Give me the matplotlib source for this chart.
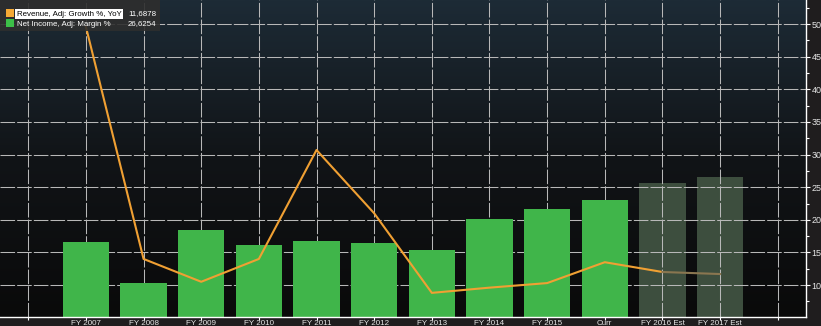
import numpy as np
import matplotlib
matplotlib.use('Agg')
import matplotlib.pyplot as plt
from matplotlib.colors import LinearSegmentedColormap
from matplotlib.patches import Rectangle

categories = ['FY 2007', 'FY 2008', 'FY 2009', 'FY 2010', 'FY 2011', 'FY 2012',
              'FY 2013', 'FY 2014', 'FY 2015', 'Curr', 'FY 2016 Est', 'FY 2017 Est']
net_margin = [16.6, 10.3, 18.5, 16.2, 16.7, 16.4, 15.4, 20.2, 21.6, 23.1, 25.6, 26.6254]
rev_growth = [49.6, 14.0, 10.5, 14.0, 30.7, 21.0, 8.8, 9.6, 10.3, 13.5, 12.0, 11.6878]
is_estimate = [False] * 10 + [True] * 2

W, H = 821, 326
FONT = ['Liberation Sans Narrow', 'Liberation Sans', 'DejaVu Sans']
plt.rcParams['font.family'] = FONT

fig = plt.figure(figsize=(W / 100, H / 100), dpi=100)
fig.patch.set_facecolor('#1f1d1e')
ax = fig.add_axes([0, 9 / H, 806 / W, 317 / H])
ax.set_facecolor('#0a0a0b')

# gradient background, dark blue at top fading to black
cmap = LinearSegmentedColormap.from_list('bg', ['#0a0a0a', '#111417', '#1d2b36'])
grad = np.linspace(0, 1, 256).reshape(-1, 1)
ax.imshow(grad, cmap=cmap, aspect='auto', origin='lower',
          extent=[0, 1, 0, 1], transform=ax.transAxes, zorder=0)

x = np.arange(len(categories))
ax.set_xlim(-1.49, 12.49)
ax.set_ylim(5.1, 53.7)

grid_kw = dict(color='#b8b8b8', lw=0.75, dashes=(14, 2), zorder=1.5)
for xi in range(-1, 13):
    ax.axvline(xi, **grid_kw)
for yv in range(10, 51, 5):
    ax.axhline(yv, **grid_kw)

for xi, v, est in zip(x, net_margin, is_estimate):
    if est:
        ax.bar(xi, v, width=0.8, color='#3d4e3e', zorder=1)
    else:
        ax.bar(xi, v, width=0.8, color='#40b54a', zorder=2)

n_act = is_estimate.index(True) + 1
ax.plot(x[:n_act], rev_growth[:n_act], color='#f0a033', lw=1.5, zorder=3)
ax.plot(x[n_act - 1:], rev_growth[n_act - 1:], color='#8a7650', lw=1.5, zorder=3)

# axes styling
ax.yaxis.tick_right()
ax.set_yticks(range(10, 51, 5))
ax.set_yticks(np.arange(7.5, 53, 5), minor=True)
ax.tick_params(axis='y', which='major', direction='out', length=3, width=0.8,
               colors='white', labelsize=6.5, pad=1)
ax.tick_params(axis='y', which='minor', direction='out', length=2.5, width=0.8,
               colors='white')
ax.set_xticks(range(-1, 13))
ax.set_xticklabels([''] + categories + [''])
ax.tick_params(axis='x', direction='out', length=2, width=0.8,
               colors='white', labelsize=5.8, pad=0.3)
for lbl in ax.get_xticklabels() + ax.get_yticklabels():
    lbl.set_color('#e6e6e6')
for side in ['top', 'left']:
    ax.spines[side].set_visible(False)
for side in ['right', 'bottom']:
    ax.spines[side].set_color('white')
    ax.spines[side].set_linewidth(1.0)
    ax.spines[side].set_zorder(4)


def px(xp, yp):
    return xp / W, 1 - yp / H


# legend box in the top left corner
lx, ly = px(0, 31)
fig.patches.append(Rectangle((lx, ly), 160 / W, 31 / H, transform=fig.transFigure,
                             facecolor='#2e2e2e', alpha=0.9, edgecolor='none', zorder=5))
for (sx, sy), c in [((6, 17), '#f5a935'), ((6, 27), '#3cbf48')]:
    fig.patches.append(Rectangle(px(sx, sy), 8 / W, 8 / H, transform=fig.transFigure,
                                 facecolor=c, edgecolor='none', zorder=6))
fs = 5.7
fig.text(*px(17, 14), 'Revenue, Adj: Growth %, YoY', fontsize=fs, color='black',
         va='center', ha='left', zorder=7,
         bbox=dict(boxstyle='square,pad=0.2', facecolor='white', edgecolor='none'))
fig.text(*px(128, 14), '11,6878', fontsize=fs, color='white', va='center', ha='left', zorder=7)
fig.text(*px(17, 24), 'Net Income, Adj: Margin %', fontsize=fs, color='white',
         va='center', ha='left', zorder=7)
fig.text(*px(128, 24), '26,6254', fontsize=fs, color='white', va='center', ha='left', zorder=7)

fig.savefig('out.png', dpi=100, facecolor=fig.get_facecolor())
